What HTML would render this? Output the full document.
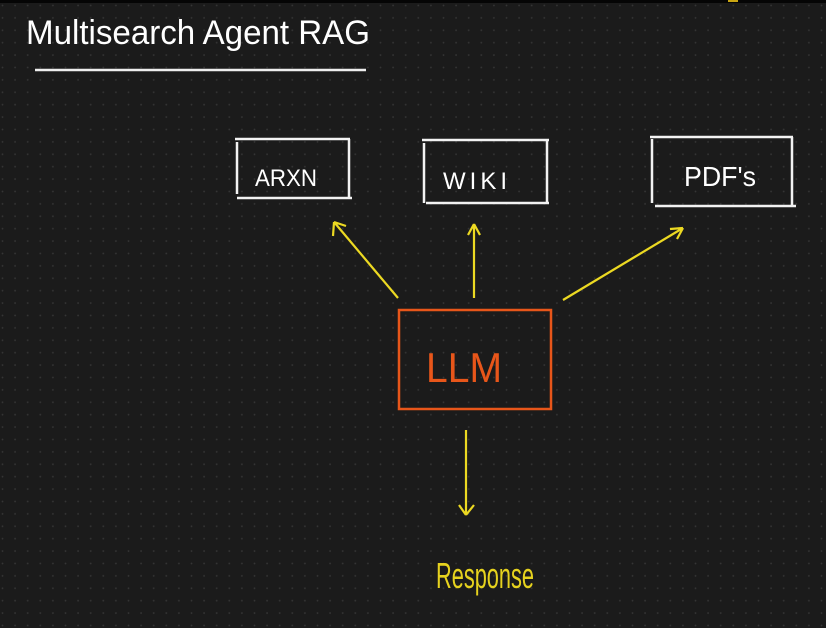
<!DOCTYPE html>
<html><head><meta charset="utf-8"><style>
html,body{margin:0;padding:0;background:#1b1b1b;}
svg{display:block}
text{font-family:"Liberation Sans",sans-serif;}
</style></head><body>
<svg width="826" height="628" viewBox="0 0 826 628" xmlns="http://www.w3.org/2000/svg">
<defs>
<pattern id="d" x="1" y="-1" width="12.6" height="12.4" patternUnits="userSpaceOnUse">
<circle cx="1.5" cy="6.5" r="0.9" fill="#363636"/>
</pattern>
</defs>
<rect width="826" height="628" fill="#1b1b1b"/>
<rect width="826" height="628" fill="url(#d)"/>
<rect width="826" height="3" fill="#050505"/>
<rect x="728" y="0" width="10" height="2" fill="#c9a512"/>
<text x="26" y="44" font-size="34" fill="#fff" font-weight="300" textLength="344" lengthAdjust="spacingAndGlyphs">Multisearch Agent RAG</text>
<line x1="35" y1="70" x2="366" y2="70" stroke="#eee" stroke-width="2.5"/>
<g fill="none" stroke="#f2f2f2" stroke-width="2.5">
<path d="M235 139H350M237 142V194M349 139V198M237 198H352"/>
<path d="M422 140H549M424 143V203M547 140V203M426 203H549"/>
<path d="M650 137H793M652 139V203M792 137V206M655 206H796"/>
</g>
<text x="255" y="186" font-size="24" fill="#fff" textLength="62" lengthAdjust="spacingAndGlyphs">ARXN</text>
<text x="443" y="189" font-size="24" fill="#fff" textLength="68" lengthAdjust="spacingAndGlyphs" letter-spacing="4">WIKI</text>
<text x="684" y="186" font-size="28" fill="#fff" textLength="72" lengthAdjust="spacingAndGlyphs">PDF's</text>
<rect x="399" y="310" width="152" height="99" fill="none" stroke="#e8561a" stroke-width="2.5"/>
<text x="426" y="382" font-size="42" fill="#e8561a" textLength="76" lengthAdjust="spacingAndGlyphs">LLM</text>
<g stroke="#ecd922" stroke-width="2.2" fill="none">
<path d="M398 298L334 222M334 222L333 236M334 222L346 226"/>
<path d="M474 298V224M474 224L468 235M474 224L480 235"/>
<path d="M563 300L683 228M683 228L670 229M683 228L677 239"/>
<path d="M466 430V515M466 515L459 505M466 515L474 505"/>
</g>
<text x="436" y="588" font-size="36" fill="#e6d21e" textLength="98" lengthAdjust="spacingAndGlyphs">Response</text>
</svg>
</body></html>
